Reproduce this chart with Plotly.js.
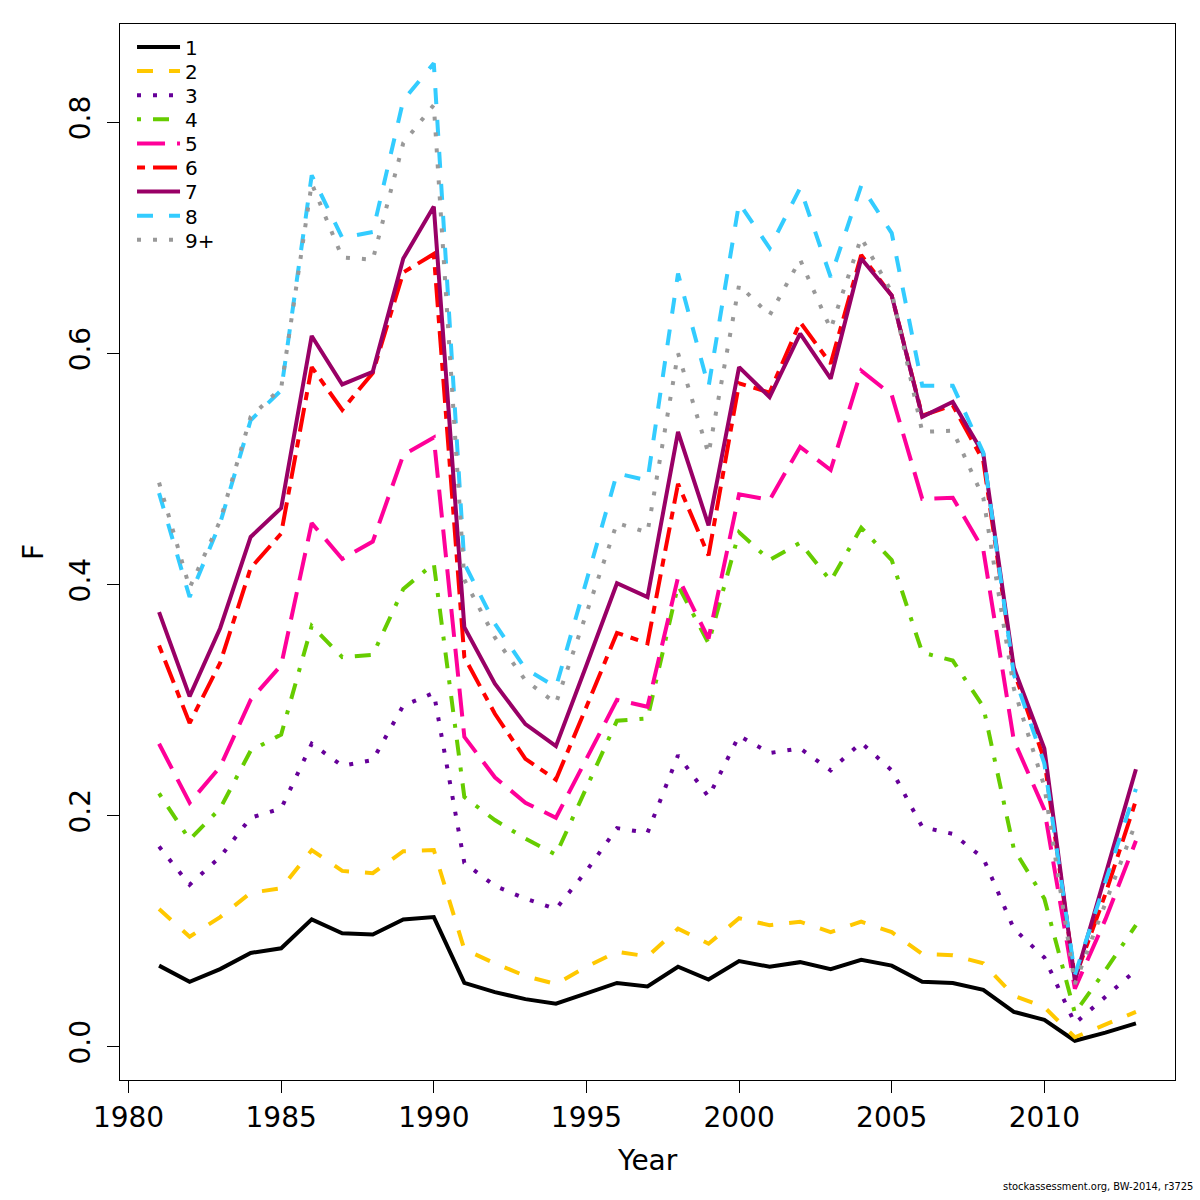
<!DOCTYPE html>
<html>
<head>
<meta charset="utf-8">
<script src="https://cdn.plot.ly/plotly-3.0.1.min.js"></script>
<style>html,body{margin:0;padding:0;background:#fff;}#chart{width:1200px;height:1200px;}</style>
</head>
<body>
<div id="chart"></div>
<script>
const years = [1981,1982,1983,1984,1985,1986,1987,1988,1989,1990,1991,1992,1993,1994,1995,1996,1997,1998,1999,2000,2001,2002,2003,2004,2005,2006,2007,2008,2009,2010,2011,2012,2013];

const age1 = [0.070,0.056,0.067,0.081,0.085,0.110,0.098,0.097,0.110,0.112,0.055,0.047,0.041,0.037,0.046,0.055,0.052,0.069,0.058,0.074,0.069,0.073,0.067,0.075,0.070,0.056,0.055,0.049,0.030,0.023,0.005,0.012,0.020];
const age2 = [0.119,0.095,0.112,0.133,0.137,0.170,0.152,0.150,0.169,0.170,0.084,0.072,0.061,0.054,0.069,0.082,0.078,0.102,0.089,0.111,0.105,0.108,0.099,0.108,0.099,0.080,0.079,0.072,0.044,0.034,0.008,0.019,0.030];
const age3 = [0.173,0.140,0.164,0.198,0.206,0.262,0.243,0.248,0.295,0.306,0.159,0.139,0.128,0.119,0.152,0.189,0.185,0.252,0.216,0.269,0.254,0.258,0.239,0.263,0.239,0.190,0.184,0.163,0.102,0.077,0.020,0.043,0.066];
const age4 = [0.219,0.179,0.206,0.256,0.270,0.364,0.337,0.339,0.396,0.418,0.216,0.196,0.180,0.166,0.224,0.282,0.284,0.399,0.349,0.445,0.421,0.436,0.403,0.449,0.421,0.341,0.334,0.294,0.171,0.128,0.029,0.066,0.105];
const age5 = [0.262,0.211,0.242,0.300,0.330,0.453,0.422,0.437,0.512,0.527,0.268,0.233,0.211,0.198,0.249,0.300,0.294,0.406,0.353,0.478,0.473,0.519,0.499,0.585,0.564,0.474,0.475,0.430,0.265,0.205,0.050,0.110,0.178];
const age6 = [0.347,0.280,0.332,0.414,0.444,0.588,0.551,0.583,0.670,0.686,0.337,0.288,0.249,0.231,0.294,0.358,0.349,0.487,0.425,0.574,0.566,0.627,0.591,0.685,0.650,0.546,0.555,0.507,0.325,0.248,0.059,0.132,0.213];
const age7 = [0.376,0.303,0.362,0.441,0.466,0.615,0.573,0.584,0.682,0.727,0.363,0.314,0.279,0.260,0.330,0.401,0.389,0.532,0.451,0.588,0.562,0.617,0.578,0.682,0.650,0.545,0.558,0.513,0.328,0.258,0.057,0.148,0.240];
const age8 = [0.479,0.389,0.453,0.542,0.568,0.754,0.700,0.705,0.819,0.851,0.418,0.366,0.327,0.311,0.403,0.496,0.490,0.669,0.571,0.730,0.691,0.743,0.666,0.745,0.704,0.572,0.572,0.514,0.322,0.245,0.062,0.142,0.223];
const age9 = [0.488,0.397,0.455,0.545,0.570,0.747,0.683,0.681,0.782,0.815,0.404,0.354,0.317,0.297,0.375,0.453,0.445,0.600,0.513,0.659,0.633,0.681,0.621,0.700,0.653,0.532,0.533,0.475,0.310,0.225,0.054,0.124,0.194];

const seriesNames = ["1","2","3","4","5","6","7","8","9+"];
const seriesValues = [age1,age2,age3,age4,age5,age6,age7,age8,age9];
const seriesColors = ["#000000","#FFC800","#660099","#66CC00","#FF0099","#FF0000","#990066","#33CCFF","#999999"];
const seriesDash = ["solid","16px,16px","4px,12px","4px,12px,16px,12px","28px,12px","8px,8px,24px,8px","solid","16px,16px","4px,12px"];

const xTicks = [1980,1985,1990,1995,2000,2005,2010];
const yTicks = [0,0.2,0.4,0.6,0.8];
const yTickText = ["0.0","0.2","0.4","0.6","0.8"];

const font = "DejaVu Sans, Liberation Sans, sans-serif";

// one legend per series so the row spacing can match the reference (24 px rows)
const legendIds = seriesNames.map((n,i)=> i===0 ? "legend" : "legend"+(i+1));

const traces = seriesNames.map((n,i)=>({
  type:"scatter", mode:"lines", name:n, x:years, y:seriesValues[i],
  legend:legendIds[i],
  line:{color:seriesColors[i], width:4, dash:seriesDash[i]}
}));

const layout = {
  width:1200, height:1200,
  paper_bgcolor:"#fff", plot_bgcolor:"#fff",
  margin:{l:120, r:25, t:24, b:120},
  font:{family:font, color:"#000"},
  showlegend:true,
  xaxis:{range:[1979.72,2014.28], tickvals:xTicks, ticktext:xTicks.map(String), ticks:"outside", ticklen:12, tickwidth:1, tickcolor:"#000",
         showgrid:false, zeroline:false, showline:true, linecolor:"#000", linewidth:1, mirror:true,
         tickfont:{size:28, family:font, color:"#000"}},
  yaxis:{range:[-0.029,0.885], tickvals:yTicks, ticktext:yTickText, ticks:"outside", ticklen:12, tickwidth:1, tickcolor:"#000",
         tickangle:-90, ticklabelstandoff:6, showgrid:false, zeroline:false, showline:true, linecolor:"#000", linewidth:1, mirror:true,
         tickfont:{size:28, family:font, color:"#000"}},
  annotations:[
    {text:"Year", xref:"paper", yref:"paper", x:0.5, y:-0.0758, xanchor:"center", yanchor:"middle", showarrow:false,
     font:{size:28, family:font, color:"#000"}},
    {text:"F", xref:"paper", yref:"paper", x:-0.0825, y:0.5, xanchor:"center", yanchor:"middle", showarrow:false, textangle:-90,
     font:{size:28, family:font, color:"#000"}},
    {text:"stockassessment.org, BW-2014, r3725", xref:"paper", yref:"paper", x:1.019, y:-0.101, xanchor:"right", yanchor:"middle", showarrow:false,
     font:{size:11, family:"DejaVu Sans Condensed, DejaVu Sans, sans-serif", color:"#000"}}
  ]
};

const legendRowPx = 24.1, legendFirstPx = 47, plotTopPx = 24, plotHeightPx = 1056;
legendIds.forEach((id,i)=>{
  const py = legendFirstPx + i*legendRowPx;
  layout[id] = {x:0.0114, y:1 - (py - plotTopPx)/plotHeightPx, xanchor:"left", yanchor:"middle",
                bgcolor:"rgba(0,0,0,0)", borderwidth:0, itemwidth:43,
                font:{size:20, family:font, color:"#000"}};
});

Plotly.newPlot("chart", traces, layout, {displayModeBar:false, staticPlot:true});
</script>
</body>
</html>
